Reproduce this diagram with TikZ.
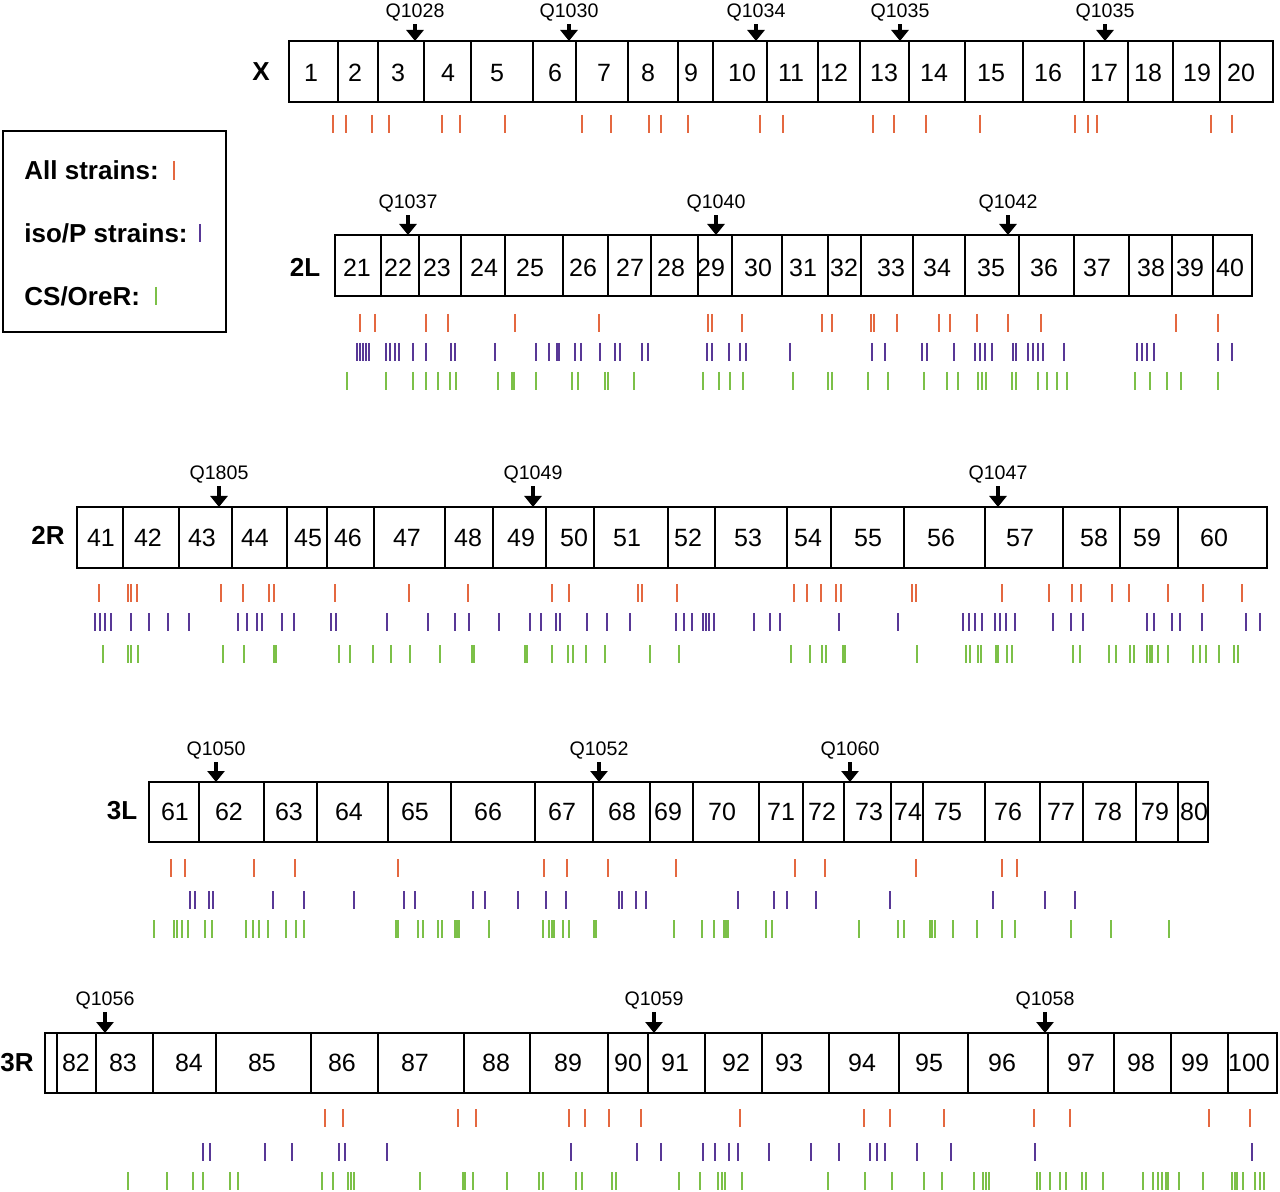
\documentclass[tikz,border=0pt]{standalone}
\usepackage{fontspec}
\setmainfont{Liberation Sans}
\usetikzlibrary{arrows.meta}
\definecolor{cor}{RGB}{228,104,64}
\definecolor{cpu}{RGB}{88,56,150}
\definecolor{cgr}{RGB}{124,192,72}
\tikzset{
  boxline/.style={line width=1.2pt, draw=black},
  divline/.style={line width=1pt, draw=black},
  band/.style={font=\fontsize{12.5}{14}\selectfont, inner sep=0pt},
  chrlbl/.style={font=\fontsize{13}{15}\selectfont\bfseries, inner sep=0pt},
  qlbl/.style={font=\fontsize{9.8}{11}\selectfont, inner sep=1pt},
  qarrow/.style={line width=2.1pt, -{Triangle[length=5.5pt,width=8.5pt]}},
  tk/.style={line width=1.05pt},
  legtxt/.style={font=\fontsize{13}{15}\selectfont\bfseries, inner sep=0pt, anchor=west},
}
\newcommand\tickrow[3]{\foreach \xx in {#3}{\draw[tk,#1] (\xx,#2) -- (\xx,#2+18);}}
\newcommand\bandlabels[2]{\foreach \n/\xx in {#2}{\node[band] (b\n) at (\xx,#1) {\n};}}
\newcommand\chrbox[5]{%
  \draw[boxline] (#1,#3) rectangle (#2,#4);
  \foreach \xx in {#5}{\draw[divline] (\xx,#3) -- (\xx,#4);}}
\newcommand\qmark[5]{%
  \node[qlbl] (#1) at (#2,#3+3) {#5};
  \coordinate (#1t) at (#2,#4);
  \draw[qarrow] (#1.south) -- (#1t);}
\begin{document}
\begin{tikzpicture}[x=0.5pt,y=-0.5pt]
\useasboundingbox (0,0) rectangle (1280,1192);
\fill[white] (0,0) rectangle (1280,1192);

% ---------- Legend ----------
\draw[line width=1pt] (3,131) rectangle (226,332);
\node[legtxt] (leg1) at (24,170) {All strains:};
\node[legtxt] (leg2) at (24,233) {iso/P strains:};
\node[legtxt] (leg3) at (24,296) {CS/OreR:};
\draw[tk,cor] (174,161) -- (174,180);
\draw[tk,cpu] (200,224) -- (200,242);
\draw[tk,cgr] (156,287) -- (156,305);

% ---------- X ----------
\node[chrlbl] (cX) at (261,72) {X};
\chrbox{289}{1273}{41}{102}{338,378,424,471,533,576,628,678,713,767,818,860,909,965,1023,1084,1128,1173,1220}
\bandlabels{73}{1/311,2/355,3/398,4/448,5/497,6/555,7/604,8/648,9/691,10/742,11/791,12/834,13/884,14/934,15/991,16/1048,17/1104,18/1148,19/1197,20/1241}
\qmark{qa}{415}{10}{41}{Q1028}
\qmark{qb}{569}{10}{41}{Q1030}
\qmark{qc}{756}{10}{41}{Q1034}
\qmark{qd}{900}{10}{41}{Q1035}
\qmark{qe}{1105}{10}{41}{Q1035}
\tickrow{cor}{115}{333,346,372,389,442,460,505,582,611,649,661,688,760,783,873,894,926,980,1075,1088,1097,1211,1232}

% ---------- 2L ----------
\node[chrlbl] (c2L) at (305,267) {2L};
\chrbox{335}{1252}{235}{296}{381,419,461,505,563,608,651,698,732,782,828,861,913,965,1019,1074,1129,1172,1213}
\bandlabels{268}{21/357,22/398,23/437,24/484,25/530,26/583,27/630,28/671,29/711,30/758,31/803,32/844,33/891,34/937,35/991,36/1044,37/1097,38/1151,39/1190,40/1230}
\qmark{qf}{408}{201}{235}{Q1037}
\qmark{qg}{716}{201}{235}{Q1040}
\qmark{qh}{1008}{201}{235}{Q1042}
\tickrow{cor}{314}{360,375,426,448,515,599,708,712,742,822,832,871,874,897,939,950,977,1008,1041,1176,1218}
\tickrow{cpu}{343}{357,360,363,366,369,386,390,395,399,413,426,451,455,495,536,549,557,559,575,581,600,615,620,642,648,707,712,729,740,746,790,872,885,922,927,954,975,980,985,992,1013,1016,1028,1033,1038,1043,1064,1137,1142,1147,1154,1218,1232}
\tickrow{cgr}{372}{347,386,413,426,438,450,456,498,512,514,536,572,578,605,608,634,703,719,730,743,793,828,832,868,888,924,947,958,978,982,986,1012,1016,1038,1047,1057,1067,1135,1150,1167,1181,1218}

% ---------- 2R ----------
\node[chrlbl] (c2R) at (48,535) {2R};
\chrbox{77}{1267}{507}{568}{123,179,232,287,327,374,445,493,546,594,668,715,787,831,904,985,1063,1120,1178}
\bandlabels{538}{41/101,42/148,43/202,44/255,45/308,46/348,47/407,48/468,49/521,50/574,51/627,52/688,53/748,54/808,55/868,56/941,57/1020,58/1094,59/1147,60/1214}
\qmark{qi}{219}{472}{507}{Q1805}
\qmark{qj}{533}{472}{507}{Q1049}
\qmark{qk}{998}{472}{507}{Q1047}
\tickrow{cor}{584}{99,128,131,137,221,243,269,274,335,409,468,552,569,638,642,677,794,807,821,836,841,912,916,1002,1049,1072,1081,1112,1129,1168,1203,1242}
\tickrow{cpu}{613}{95,100,105,111,131,149,168,189,238,247,257,262,282,294,331,336,387,428,455,469,499,530,541,556,560,587,607,630,676,684,692,703,706,709,714,754,770,780,839,898,963,969,975,982,995,1000,1006,1015,1053,1071,1083,1147,1154,1172,1180,1202,1246,1260}
\tickrow{cgr}{645}{103,128,131,138,223,244,274,276,339,350,373,391,410,440,472,474,525,527,552,568,573,586,605,650,679,791,810,822,826,843,845,917,966,970,978,981,996,998,1007,1012,1073,1080,1109,1116,1130,1134,1147,1150,1152,1158,1168,1193,1200,1206,1219,1234,1238}

% ---------- 3L ----------
\node[chrlbl] (c3L) at (122,811) {3L};
\chrbox{149}{1208}{782}{842}{199,264,317,388,451,535,593,650,693,759,803,844,891,923,985,1040,1083,1136,1178}
\bandlabels{812}{61/175,62/229,63/289,64/349,65/415,66/488,67/562,68/622,69/668,70/722,71/781,72/822,73/869,74/908,75/948,76/1008,77/1061,78/1108,79/1155,80/1194}
\qmark{ql}{216}{748}{782}{Q1050}
\qmark{qm}{599}{748}{782}{Q1052}
\qmark{qn}{850}{748}{782}{Q1060}
\tickrow{cor}{859}{171,185,254,295,398,544,567,608,676,795,825,916,1002,1017}
\tickrow{cpu}{891}{190,195,209,213,273,304,354,404,415,473,485,518,546,566,619,622,636,646,738,774,787,816,890,993,1045,1075}
\tickrow{cgr}{920}{154,174,177,182,188,205,212,246,253,259,268,286,296,304,396,398,418,423,438,442,455,457,459,489,543,549,552,554,563,569,594,596,674,702,714,724,726,728,766,772,859,898,904,930,932,935,953,977,1002,1015,1071,1111,1169}

% ---------- 3R ----------
\node[chrlbl] (c3R) at (17,1063) {3R};
\chrbox{45}{1277}{1033}{1093}{57,96,153,216,311,378,464,530,608,648,705,762,829,899,968,1048,1114,1171,1228}
\bandlabels{1063}{82/76,83/123,84/189,85/262,86/342,87/415,88/496,89/568,90/628,91/675,92/736,93/789,94/862,95/929,96/1002,97/1081,98/1141,99/1195,100/1249}
\qmark{qo}{105}{998}{1033}{Q1056}
\qmark{qp}{654}{998}{1033}{Q1059}
\qmark{qq}{1045}{998}{1033}{Q1058}
\tickrow{cor}{1109}{325,343,458,476,569,585,609,641,740,864,890,944,1034,1070,1209,1250}
\tickrow{cpu}{1143}{203,210,265,292,339,345,387,571,637,661,703,715,729,738,769,811,839,870,877,885,917,951,1035,1252}
\tickrow{cgr}{1172}{128,167,193,203,230,238,322,333,348,351,354,420,463,465,473,507,539,543,576,582,612,616,679,700,718,722,725,742,828,865,892,924,942,974,983,986,989,1037,1040,1050,1060,1066,1082,1086,1103,1143,1153,1158,1162,1166,1168,1179,1203,1232,1235,1237,1243,1255,1260,1264}
\end{tikzpicture}
\end{document}
